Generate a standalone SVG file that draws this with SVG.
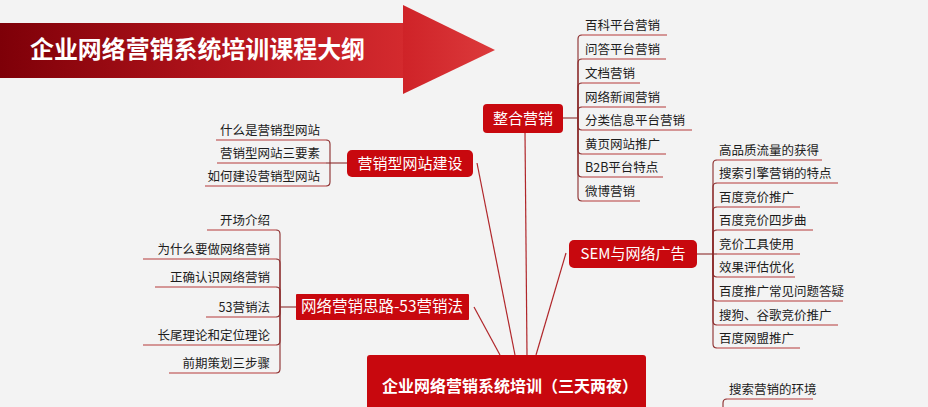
<svg xmlns="http://www.w3.org/2000/svg" width="928" height="407" viewBox="0 0 928 407">
<defs>
<linearGradient id="bar" x1="0" y1="0" x2="1" y2="0">
<stop offset="0" stop-color="#7e0008"/>
<stop offset="0.55" stop-color="#b3141c"/>
<stop offset="1" stop-color="#d42a2e"/>
</linearGradient>
<linearGradient id="head" x1="0" y1="0" x2="1" y2="0">
<stop offset="0" stop-color="#cf2328"/>
<stop offset="1" stop-color="#dc3a3c"/>
</linearGradient>
<style>
text{font-family:"Noto Sans CJK SC","Noto Sans",sans-serif;}
.it{font-size:12.5px;fill:#1c1c1c;}
.r{text-anchor:end;}
.nt{font-size:15px;fill:#ffffff;text-anchor:middle;}
.node{fill:#c8080e;}
.ul{fill:none;stroke:#b53a3a;stroke-width:1.2;}
.br{fill:none;stroke:#8a2a2a;stroke-width:1.1;}
.cn{fill:none;stroke:#b0262a;stroke-width:1.2;}
</style>
</defs>
<rect width="928" height="407" fill="#f3f3f3"/>

<g id="title">
<rect x="0" y="23" width="404" height="55" fill="url(#bar)"/>
<polygon points="403,5 495,50 403,94" fill="url(#head)"/>
<text x="30" y="58" style="font-size:24px;font-weight:bold;fill:#ffffff;" textLength="335" lengthAdjust="spacingAndGlyphs">企业网络营销系统培训课程大纲</text>
</g>

<g id="connectors">
<line class="cn" x1="477" y1="163" x2="515" y2="355"/>
<line class="cn" x1="525" y1="133" x2="527" y2="355"/>
<line class="cn" x1="566" y1="253" x2="536" y2="355"/>
<line class="cn" x1="474" y1="307" x2="500" y2="355"/>
<line class="br" x1="563" y1="118" x2="578" y2="118"/>
<line class="br" x1="330" y1="163" x2="347" y2="163"/>
<line class="br" x1="280" y1="307" x2="296" y2="307"/>
<line class="br" x1="697" y1="254" x2="713" y2="254"/>
</g>

<g id="center">
<rect class="node" x="367" y="355" width="279" height="60" rx="3"/>
<text x="510" y="392" style="font-size:16px;font-weight:bold;fill:#ffffff;text-anchor:middle;">企业网络营销系统培训（三天两夜）</text>
</g>

<g id="zhenghe">
<rect class="node" x="483" y="104" width="80" height="29" rx="4"/>
<text class="nt" x="523" y="124">整合营销</text>
</g>

<g id="zhenghe-list">
<path class="br" d="M578,118 L578,39 Q578,35 582,35"/>
<path class="br" d="M578,118 L578,63 Q578,59 582,59"/>
<path class="br" d="M578,118 L578,87 Q578,83 582,83"/>
<path class="br" d="M578,118 L578,111 Q578,107 582,107"/>
<path class="br" d="M578,118 L578,126 Q578,130 582,130"/>
<path class="br" d="M578,118 L578,150 Q578,154 582,154"/>
<path class="br" d="M578,118 L578,173 Q578,177 582,177"/>
<path class="br" d="M578,118 L578,197 Q578,201 582,201"/>
<path class="ul" d="M582,35 H667 M582,59 H666 M582,83 H640 M582,107 H666 M582,130 H692 M582,154 H666 M582,177 H663 M582,201 H640"/>
<text class="it" x="585" y="30">百科平台营销</text>
<text class="it" x="585" y="54">问答平台营销</text>
<text class="it" x="585" y="78">文档营销</text>
<text class="it" x="585" y="102">网络新闻营销</text>
<text class="it" x="585" y="125">分类信息平台营销</text>
<text class="it" x="585" y="149">黄页网站推广</text>
<text class="it" x="585" y="172">B2B平台特点</text>
<text class="it" x="585" y="196">微博营销</text>
</g>

<g id="site">
<rect class="node" x="347" y="150" width="126" height="27" rx="5"/>
<text class="nt" x="410" y="169">营销型网站建设</text>
</g>

<g id="site-list">
<path class="br" d="M330,163 L330,144 Q330,140 326,140"/>
<path class="br" d="M330,163 L326,163"/>
<path class="br" d="M330,163 L330,182 Q330,186 326,186"/>
<path class="ul" d="M326,140 H216 M326,163 H217 M326,186 H205"/>
<text class="it r" x="320" y="135">什么是营销型网站</text>
<text class="it r" x="320" y="158">营销型网站三要素</text>
<text class="it r" x="320" y="181">如何建设营销型网站</text>
</g>

<g id="method">
<rect class="node" x="296" y="294" width="173" height="26" rx="1"/>
<text class="nt" x="382" y="312" style="font-size:15.5px;">网络营销思路-53营销法</text>
</g>

<g id="method-list">
<path class="br" d="M280,307 L280,234 Q280,230 276,230"/>
<path class="br" d="M280,307 L280,263 Q280,259 276,259"/>
<path class="br" d="M280,307 L280,291 Q280,287 276,287"/>
<path class="br" d="M280,307 L280,313 Q280,317 276,317"/>
<path class="br" d="M280,307 L280,341 Q280,345 276,345"/>
<path class="br" d="M280,307 L280,369 Q280,373 276,373"/>
<path class="ul" d="M276,230 H207 M276,259 H143 M276,287 H155 M276,317 H206 M276,345 H143 M276,373 H169"/>
<text class="it r" x="270" y="225">开场介绍</text>
<text class="it r" x="270" y="254">为什么要做网络营销</text>
<text class="it r" x="270" y="282">正确认识网络营销</text>
<text class="it r" x="270" y="312">53营销法</text>
<text class="it r" x="270" y="340">长尾理论和定位理论</text>
<text class="it r" x="270" y="368">前期策划三步骤</text>
</g>

<g id="sem">
<rect class="node" x="569" y="240" width="128" height="28" rx="5"/>
<text class="nt" x="633" y="259">SEM与网络广告</text>
</g>

<g id="sem-list">
<path class="br" d="M713,254 L713,164 Q713,160 717,160"/>
<path class="br" d="M713,254 L713,187 Q713,183 717,183"/>
<path class="br" d="M713,254 L713,211 Q713,207 717,207"/>
<path class="br" d="M713,254 L713,234 Q713,230 717,230"/>
<path class="br" d="M713,254 L717,254"/>
<path class="br" d="M713,254 L713,273 Q713,277 717,277"/>
<path class="br" d="M713,254 L713,297 Q713,301 717,301"/>
<path class="br" d="M713,254 L713,321 Q713,325 717,325"/>
<path class="br" d="M713,254 L713,344 Q713,348 717,348"/>
<path class="ul" d="M717,160 H822 M717,183 H838 M717,207 H800 M717,230 H813 M717,254 H800 M717,277 H795 M717,301 H843 M717,325 H838 M717,348 H800"/>
<text class="it" x="719" y="155">高品质流量的获得</text>
<text class="it" x="719" y="178">搜索引擎营销的特点</text>
<text class="it" x="719" y="202">百度竞价推广</text>
<text class="it" x="719" y="225">百度竞价四步曲</text>
<text class="it" x="719" y="249">竞价工具使用</text>
<text class="it" x="719" y="272">效果评估优化</text>
<text class="it" x="719" y="296">百度推广常见问题答疑</text>
<text class="it" x="719" y="320">搜狗、谷歌竞价推广</text>
<text class="it" x="719" y="343">百度网盟推广</text>
</g>

<g id="env-list">
<path class="br" d="M723,410 L723,403 Q723,399 727,399"/>
<path class="ul" d="M727,399 H813"/>
<text class="it" x="729" y="394">搜索营销的环境</text>
</g>
</svg>
